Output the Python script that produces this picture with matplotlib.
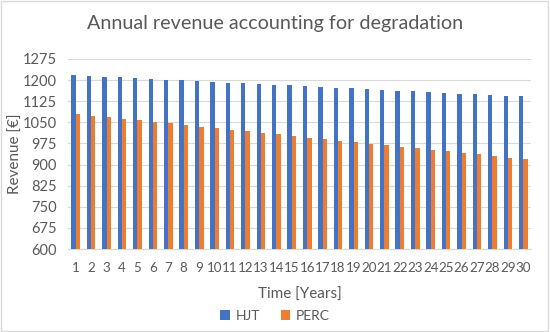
import matplotlib.pyplot as plt
import numpy as np

years = list(range(1, 31))
hjt = [1218, 1215, 1212, 1210, 1207, 1205, 1202, 1199, 1197, 1194,
       1191, 1189, 1186, 1184, 1181, 1178, 1176, 1173, 1171, 1168,
       1165, 1163, 1160, 1158, 1155, 1152, 1150, 1147, 1145, 1142]
perc = [1079, 1073, 1068, 1062, 1057, 1051, 1046, 1040, 1035, 1029,
        1024, 1018, 1013, 1007, 1002, 996, 991, 985, 980, 974,
        969, 963, 958, 952, 947, 941, 936, 930, 925, 919]
yticks = list(range(600, 1276, 75))

plt.rcParams['font.family'] = ['Lato', 'DejaVu Sans']
txt = "#595959"

fig = plt.figure(figsize=(5.5, 3.32), dpi=100)
ax = fig.add_axes([68 / 550, 1 - 249 / 332, (531 - 68) / 550, (249 - 59) / 332])

x = np.arange(len(years))
w = 0.28
ax.bar(x - w / 2, hjt, w, color="#4472C4", label="HJT", zorder=3)
ax.bar(x + w / 2, perc, w, color="#ED7D31", label="PERC", zorder=3)

ax.set_xlim(-0.5, len(years) - 0.5)
ax.set_ylim(600, 1275)
ax.set_yticks(yticks)
ax.set_xticks(x)
ax.set_xticklabels(years)
ax.grid(axis="y", color="#D9D9D9", linewidth=0.8, zorder=0)
for s in ["top", "right", "left"]:
    ax.spines[s].set_visible(False)
ax.spines["bottom"].set_color("#D9D9D9")
ax.tick_params(axis="x", length=0, labelsize=9.6, colors=txt, pad=9)
ax.tick_params(axis="y", length=0, labelsize=10.5, colors=txt, pad=8)

ax.set_ylabel("Revenue [€]", fontsize=11, color=txt)
ax.yaxis.set_label_coords(-0.097, 0.5)
ax.set_xlabel("Time [Years]", fontsize=11, color=txt, labelpad=10)
fig.suptitle("Annual revenue accounting for degradation", fontsize=14.2,
             color=txt, y=0.955)
fig.legend(loc="lower center", bbox_to_anchor=(0.5, -0.008), ncol=2, frameon=False,
           fontsize=10, labelcolor=txt, handlelength=0.7, handleheight=0.7,
           columnspacing=1.5, handletextpad=0.4)

fig.patches.append(plt.Rectangle((0.002, 0.003), 0.994, 0.994, transform=fig.transFigure,
                                 fill=False, edgecolor="#D9D9D9", linewidth=1))
fig.savefig("out.png", dpi=100)
